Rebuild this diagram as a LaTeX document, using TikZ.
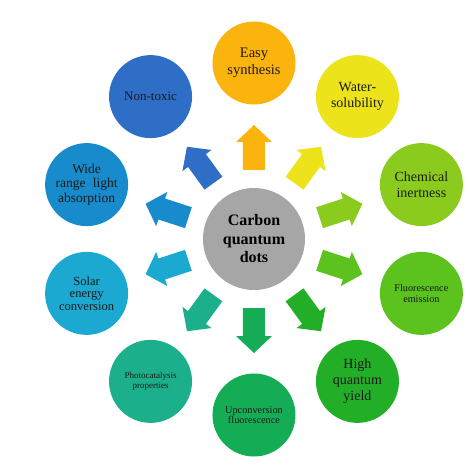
\documentclass[tikz,border=0pt]{standalone}
\usepackage{fontspec}
\setmainfont{Liberation Serif}
\definecolor{hubgray}{HTML}{A6A6A6}
\definecolor{cA}{HTML}{FBB30E}
\definecolor{cB}{HTML}{EDE31B}
\definecolor{cC}{HTML}{8BCB1E}
\definecolor{cD}{HTML}{5BC21E}
\definecolor{cE}{HTML}{22AE27}
\definecolor{cF}{HTML}{14AD55}
\definecolor{cG}{HTML}{1BB08B}
\definecolor{cH}{HTML}{1CA9D1}
\definecolor{cI}{HTML}{178BCB}
\definecolor{cJ}{HTML}{2E6EC6}
\definecolor{txt}{HTML}{1A1A1A}
\begin{document}
\begin{tikzpicture}[x=1pt,y=1pt,
  bubble/.style={circle, minimum size=83pt, inner sep=0pt, align=center, text=txt},
  hub/.style={circle, fill=hubgray, minimum size=102pt, inner sep=0pt, align=center,
    font=\fontsize{16}{18.5}\selectfont\bfseries},
  blockarrow/.pic={\fill[#1] (69,-11) -- (97,-11) -- (97,-18) -- (114,0) -- (97,18) -- (97,11) -- (69,11) -- cycle;}
]
\useasboundingbox (-254,-235) rectangle (220,239);
\node[hub] (hub) at (0,0) {Carbon\\quantum\\dots};

\node[bubble, fill=cA, font=\fontsize{14.5}{17}\selectfont] (easy) at (90:176) {Easy\\synthesis};
\node[bubble, fill=cB, font=\fontsize{14}{15.5}\selectfont] (water) at (54:176) {Water-\\solubility};
\node[bubble, fill=cC, font=\fontsize{14}{16}\selectfont] (chem) at (18:176) {Chemical\\inertness};
\node[bubble, fill=cD, font=\fontsize{10.2}{10.5}\selectfont] (fluo) at (-18:176) {Fluorescence\\emission};
\node[bubble, fill=cE, font=\fontsize{14}{16}\selectfont] (high) at (-54:176) {High\\quantum\\yield};
\node[bubble, fill=cF, font=\fontsize{10.3}{10.5}\selectfont] (upc) at (-90:176) {Upconversion\\fluorescence};
\node[bubble, fill=cG, font=\fontsize{9}{9.5}\selectfont] (photo) at (-126:176) {Photocatalysis\\properties};
\node[bubble, fill=cH, font=\fontsize{12.5}{12.5}\selectfont] (solar) at (-162:176) {Solar\\energy\\conversion};
\node[bubble, fill=cI, font=\fontsize{13.5}{14.5}\selectfont] (wide) at (162:176) {Wide\\range\hspace{4pt} light\\absorption};
\node[bubble, fill=cJ, font=\fontsize{13}{15}\selectfont] (nontox) at (126:176) {Non-toxic};

\pic[rotate=90] at (hub) {blockarrow=cA};
\pic[rotate=54] at (hub) {blockarrow=cB};
\pic[rotate=18] at (hub) {blockarrow=cC};
\pic[rotate=-18] at (hub) {blockarrow=cD};
\pic[rotate=-54] at (hub) {blockarrow=cE};
\pic[rotate=-90] at (hub) {blockarrow=cF};
\pic[rotate=-126] at (hub) {blockarrow=cG};
\pic[rotate=-162] at (hub) {blockarrow=cH};
\pic[rotate=162] at (hub) {blockarrow=cI};
\pic[rotate=126] at (hub) {blockarrow=cJ};
\end{tikzpicture}
\end{document}
